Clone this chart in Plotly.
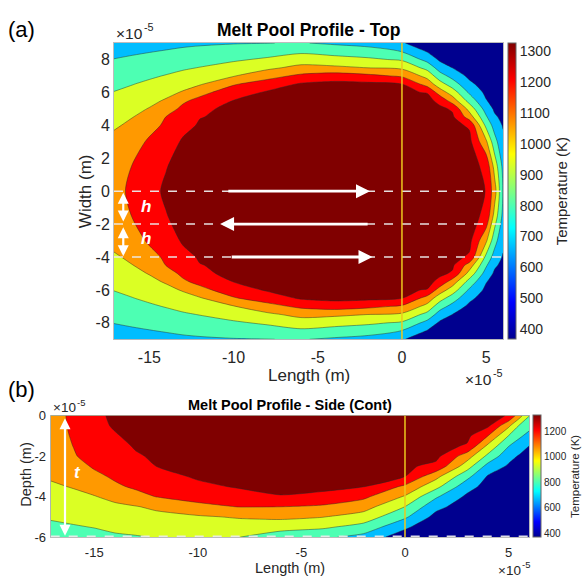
import numpy as np
import plotly.graph_objects as go

# ---------------- data (positions in 1e-5 m, temperatures in K) ----------------
top_x_cols = [-17.1, -16, -15, -14, -13, -12, -10, -8, -6, -4, -2, 0, 1.5, 2.25, 3, 4, 5, 5.5, 6]
side_x_cols = [-17.1, -16, -15, -14, -13, -12, -10, -8, -6, -4, -2, 0, 1.5, 3, 4, 5, 5.5, 6]

# Top view: half-width rows |y| (field is mirrored about y = 0)
top_half_y = [0, 1.5, 3, 4, 4.5, 5, 5.5, 6, 6.5, 7, 7.5, 8, 8.5, 9]
top_T_by_x = [
    [1100, 1085, 1040, 990, 961, 932, 903, 874, 841, 807, 773, 738, 704, 670],
    [1165, 1145, 1077, 1028, 1003, 969, 935, 901, 867, 829, 792, 754, 717, 680],
    [1245, 1228, 1162, 1092, 1052, 1012, 972, 932, 893, 853, 812, 770, 729, 690],
    [1290, 1271, 1207, 1165, 1144, 1086, 1019, 969, 923, 877, 832, 787, 742, 700],
    [1320, 1312, 1292, 1236, 1202, 1168, 1121, 1017, 959, 906, 854, 805, 757, 710],
    [1326, 1322, 1306, 1288, 1271, 1262, 1174, 1103, 993, 933, 874, 821, 768, 718],
    [1330, 1328, 1320, 1308, 1300, 1290, 1278, 1208, 1129, 998, 923, 852, 790, 728],
    [1330, 1329, 1324, 1316, 1310, 1302, 1293, 1290, 1204, 1092, 977, 889, 811, 733],
    [1330, 1329, 1326, 1320, 1315, 1309, 1302, 1296, 1290, 1168, 1042, 940, 843, 742],
    [1330, 1330, 1327, 1322, 1321, 1320, 1319, 1317, 1310, 1207, 1030, 917, 816, 715],
    [1330, 1330, 1327, 1322, 1321, 1319, 1317, 1315, 1305, 1174, 1003, 893, 787, 690],
    [1330, 1329, 1324, 1316, 1310, 1304, 1296, 1288, 1277, 1122, 980, 853, 730, 612],
    [1330, 1328, 1324, 1320, 1318, 1316, 1312, 1270, 1088, 962, 827, 692, 590, 520],
    [1328, 1325, 1318, 1312, 1306, 1300, 1240, 1077, 927, 792, 673, 578, 518, 460],
    [1326, 1322, 1314, 1305, 1295, 1260, 1076, 941, 803, 691, 598, 540, 480, 420],
    [1318, 1314, 1310, 1260, 1081, 957, 820, 717, 633, 570, 520, 480, 430, 380],
    [1272, 1250, 1028, 836, 752, 678, 607, 570, 535, 500, 465, 430, 400, 370],
    [1064, 956, 785, 681, 619, 580, 555, 530, 505, 480, 455, 430, 400, 370],
    [725, 700, 630, 590, 570, 550, 530, 510, 490, 470, 450, 420, 395, 365],
]

# Side view: depth rows (positive downwards)
side_depth = [0, 0.5, 1, 1.5, 2, 2.5, 3, 3.5, 4, 4.5, 5, 5.5, 6]
side_T_by_x = [
    [1100, 1099, 1095, 1085, 1070, 1045, 1020, 987, 952, 917, 882, 848, 815],
    [1160, 1157, 1150, 1142, 1130, 1090, 1047, 1013, 976, 937, 898, 861, 830],
    [1250, 1246, 1230, 1210, 1185, 1155, 1110, 1054, 999, 957, 916, 874, 835],
    [1295, 1285, 1267, 1240, 1213, 1187, 1160, 1119, 1040, 980, 936, 892, 855],
    [1320, 1315, 1300, 1285, 1264, 1230, 1195, 1161, 1096, 998, 953, 907, 862],
    [1326, 1323, 1315, 1305, 1290, 1276, 1233, 1189, 1144, 1030, 968, 921, 875],
    [1330, 1329, 1325, 1318, 1310, 1301, 1290, 1250, 1188, 1106, 989, 934, 880],
    [1330, 1330, 1328, 1325, 1320, 1312, 1300, 1286, 1231, 1144, 1018, 937, 872],
    [1330, 1330, 1328, 1326, 1322, 1316, 1308, 1300, 1270, 1141, 1036, 919, 800],
    [1330, 1330, 1328, 1326, 1322, 1315, 1305, 1300, 1250, 1119, 1011, 894, 762],
    [1330, 1330, 1328, 1325, 1320, 1311, 1300, 1280, 1169, 1060, 948, 822, 690],
    [1330, 1328, 1325, 1318, 1310, 1298, 1277, 1116, 993, 869, 758, 627, 520],
    [1328, 1326, 1322, 1317, 1310, 1240, 1046, 912, 753, 640, 557, 488, 420],
    [1320, 1315, 1305, 1262, 1069, 932, 775, 652, 575, 527, 478, 430, 380],
    [1310, 1300, 1142, 976, 840, 688, 589, 552, 516, 480, 443, 406, 370],
    [1268, 1034, 867, 740, 644, 583, 552, 520, 490, 458, 425, 393, 360],
    [1072, 864, 763, 667, 591, 561, 532, 502, 473, 444, 414, 385, 355],
    [875, 782, 690, 598, 573, 546, 519, 492, 465, 438, 411, 384, 357],
]

contour_levels = [600, 735, 870, 1005, 1140, 1275]
band_colors = ["rgb(0,0,143)", "rgb(0,189,255)", "rgb(77,255,179)", "rgb(219,255,36)",
               "rgb(255,153,0)", "rgb(255,0,0)", "rgb(128,0,0)"]
cbar_range = [368, 1326]
top_cbar_ticks = [400, 500, 600, 700, 800, 900, 1000, 1100, 1200, 1300]
side_cbar_ticks = [400, 600, 800, 1000, 1200]
top_xticks = [-15, -10, -5, 0, 5]
top_yticks = [-8, -6, -4, -2, 0, 2, 4, 6, 8]
side_yticks = [-6, -4, -2, 0]

scan_lines_y = [0, -2, -4]
scan_arrows = [(-10.4, 0, -1.9, 0), (-1.95, -2, -10.8, -2), (-10.2, -4, -1.75, -4)]  # tail -> head
hatch_arrows = [(-16.55, 0.0, -16.55, -1.85), (-16.55, -2.1, -16.55, -3.95)]         # double-headed
hatch_labels = [(-15.2, -0.95, "h"), (-15.2, -2.9, "h")]
layer_arrow = (-16.41, -0.06, -16.41, -5.94)                                          # double-headed
layer_label = (-15.8, -2.8, "t")

# ---------------- build grids ----------------
zt_half = np.array(top_T_by_x).T
top_y = [-v for v in top_half_y[:0:-1]] + top_half_y
zt = np.vstack([zt_half[:0:-1], zt_half])

zs = np.array(side_T_by_x).T[::-1]
side_y = [-d for d in side_depth[::-1]]

W, H = 583, 586
def px(x): return x / W
def py(y): return 1 - y / H

FONT = "Liberation Sans, Arial, Helvetica, sans-serif"
TXT = "#262626"

step = 1.0 / (len(band_colors) - 1)
band_scale = [[i * step, c] for i, c in enumerate(band_colors)]
jet = [[0, "rgb(0,0,143)"], [0.125, "rgb(0,0,255)"], [0.375, "rgb(0,255,255)"],
       [0.625, "rgb(255,255,0)"], [0.875, "rgb(255,0,0)"], [1, "rgb(128,0,0)"]]

cont = dict(start=contour_levels[0], end=contour_levels[-1],
            size=contour_levels[1] - contour_levels[0], coloring="fill", showlines=True)

fig = go.Figure()
fig.add_trace(go.Contour(x=top_x_cols, y=top_y, z=zt, autocontour=False, contours=cont,
                         colorscale=band_scale, showscale=False,
                         line=dict(color="rgba(40,40,40,0.75)", width=0.6, smoothing=0.8),
                         hoverinfo="skip", xaxis="x", yaxis="y"))
fig.add_trace(go.Contour(x=side_x_cols, y=side_y, z=zs, autocontour=False, contours=cont,
                         colorscale=band_scale, showscale=False,
                         line=dict(color="rgba(40,40,40,0.75)", width=0.6, smoothing=0.6),
                         hoverinfo="skip", xaxis="x2", yaxis="y2"))

def cbar(x, yc, ln, ticks, fs, tfs):
    return dict(x=x, xanchor="left", y=yc, yanchor="middle", len=ln, lenmode="fraction",
                thickness=8, xpad=0, ypad=0, outlinewidth=1, outlinecolor="#666",
                tickvals=ticks, ticktext=[str(t) for t in ticks], ticks="",
                tickfont=dict(family=FONT, size=fs, color=TXT),
                title=dict(text="Temperature (K)", side="right",
                           font=dict(family=FONT, size=tfs, color=TXT)))

# continuous (jet) colorbars, as in the original figure
fig.add_trace(go.Scatter(x=[-100], y=[-100], mode="markers", xaxis="x", yaxis="y",
                         hoverinfo="skip", showlegend=False,
                         marker=dict(size=1, color=[cbar_range[0]], cmin=cbar_range[0], cmax=cbar_range[1],
                                     colorscale=jet, showscale=True,
                                     colorbar=cbar(px(508), py(189), 304 / H, top_cbar_ticks, 14, 15))))
fig.add_trace(go.Scatter(x=[-100], y=[-100], mode="markers", xaxis="x2", yaxis="y2",
                         hoverinfo="skip", showlegend=False,
                         marker=dict(size=1, color=[cbar_range[0]], cmin=cbar_range[0], cmax=cbar_range[1],
                                     colorscale=jet, showscale=True,
                                     colorbar=cbar(px(533), py(481.7), 124.7 / H, side_cbar_ticks, 10, 11.5))))

shapes = []
for yv in scan_lines_y:
    shapes.append(dict(type="line", xref="x", yref="y", x0=top_x_cols[0], x1=top_x_cols[-1], y0=yv, y1=yv,
                       line=dict(color="rgba(235,235,235,0.95)", width=1.5, dash="dash")))
shapes.append(dict(type="line", xref="x", yref="y", x0=0, x1=0, y0=top_y[0], y1=top_y[-1],
                   line=dict(color="rgb(236,200,30)", width=1.5)))
shapes.append(dict(type="line", xref="x2", yref="y2", x0=side_x_cols[0], x1=side_x_cols[-1],
                   y0=-5.96, y1=-5.96,
                   line=dict(color="rgba(235,235,235,0.95)", width=1.5, dash="dash")))
shapes.append(dict(type="line", xref="x2", yref="y2", x0=0, x1=0, y0=side_y[0], y1=side_y[-1],
                   line=dict(color="rgb(236,200,30)", width=1.5)))

ann = []
def arrow(tx, ty, hx, hy, xr, yr, both=False, w=2.6):
    ann.append(dict(x=hx, y=hy, ax=tx, ay=ty, xref=xr, yref=yr, axref=xr, ayref=yr, text="",
                    showarrow=True, arrowhead=2, arrowsize=1, arrowwidth=w, arrowcolor="white",
                    arrowside="end+start" if both else "end", standoff=0, startstandoff=0,
                    startarrowhead=2, startarrowsize=1))
for a in scan_arrows:
    arrow(*a, "x", "y", w=2.8)
for a in hatch_arrows:
    arrow(*a, "x", "y", both=True, w=2.2)
arrow(*layer_arrow, "x2", "y2", both=True, w=2.2)

for (lx, ly, t) in hatch_labels:
    ann.append(dict(x=lx, y=ly, xref="x", yref="y", text="<b><i>%s</i></b>" % t, showarrow=False,
                    font=dict(family=FONT, size=17, color="white")))
ann.append(dict(x=layer_label[0], y=layer_label[1], xref="x2", yref="y2",
                text="<b><i>%s</i></b>" % layer_label[2], showarrow=False,
                font=dict(family=FONT, size=17, color="white")))

def ptext(t, x, y, size, xa="center", ya="middle", angle=0, color="black"):
    ann.append(dict(x=px(x), y=py(y), xref="paper", yref="paper", text=t, showarrow=False,
                    xanchor=xa, yanchor=ya, textangle=angle,
                    font=dict(family=FONT, size=size, color=color)))

def exponent(x_left, y_mid, size):
    # "×10" followed by a raised, smaller "-5"
    ptext("×10", x_left, y_mid, size, xa="left", color=TXT)
    ptext("-5", x_left + 1.78 * size, y_mid - 0.42 * size, 0.7 * size, xa="left", color=TXT)

ptext("(a)", 21.5, 23, 22)
ptext("(b)", 21.5, 392.5, 22)
ptext("<b>Melt Pool Profile - Top</b>", 308.5, 23.5, 17.5)
ptext("<b>Melt Pool Profile - Side (Cont)</b>", 290.3, 408, 14.5)
ptext("Width (m)", 85, 189, 17, angle=-90, color=TXT)
ptext("Length (m)", 309, 378, 17, color=TXT)
ptext("Depth (m)", 26, 480, 14.5, angle=-90, color=TXT)
ptext("Length (m)", 290, 576, 14.5, color=TXT)
exponent(114, 27, 15.5)
exponent(463, 382, 15.5)
exponent(51, 411.5, 13.5)
exponent(496, 578, 13.5)

axis_common = dict(showgrid=False, zeroline=False, showline=True, mirror=True,
                   linecolor="rgba(160,160,160,0.7)", linewidth=1, ticks="")
fig.update_layout(
    width=W, height=H, margin=dict(l=0, r=0, t=0, b=0),
    paper_bgcolor="white", plot_bgcolor="white", showlegend=False,
    font=dict(family=FONT, color=TXT),
    xaxis=dict(domain=[px(114), px(503)], range=[top_x_cols[0], top_x_cols[-1]], anchor="y",
               tickvals=top_xticks, ticktext=[str(v) for v in top_xticks],
               tickfont=dict(size=16, color=TXT), ticklabelstandoff=4, **axis_common),
    yaxis=dict(domain=[py(341), py(37)], range=[top_y[0], top_y[-1]], anchor="x",
               tickvals=top_yticks, ticktext=[str(v) for v in top_yticks],
               tickfont=dict(size=16, color=TXT), ticklabelstandoff=0, **axis_common),
    xaxis2=dict(domain=[px(50.7), px(529.3)], range=[side_x_cols[0], side_x_cols[-1]], anchor="y2",
                tickvals=top_xticks, ticktext=[str(v) for v in top_xticks],
                tickfont=dict(size=13, color=TXT), ticklabelstandoff=3, **axis_common),
    yaxis2=dict(domain=[py(544), py(419.3)], range=[side_y[0], side_y[-1]], anchor="x2",
                tickvals=side_yticks, ticktext=[str(v) for v in side_yticks],
                tickfont=dict(size=13, color=TXT), ticklabelstandoff=1, **axis_common),
    shapes=shapes, annotations=ann,
)

fig.write_html("out.html")
